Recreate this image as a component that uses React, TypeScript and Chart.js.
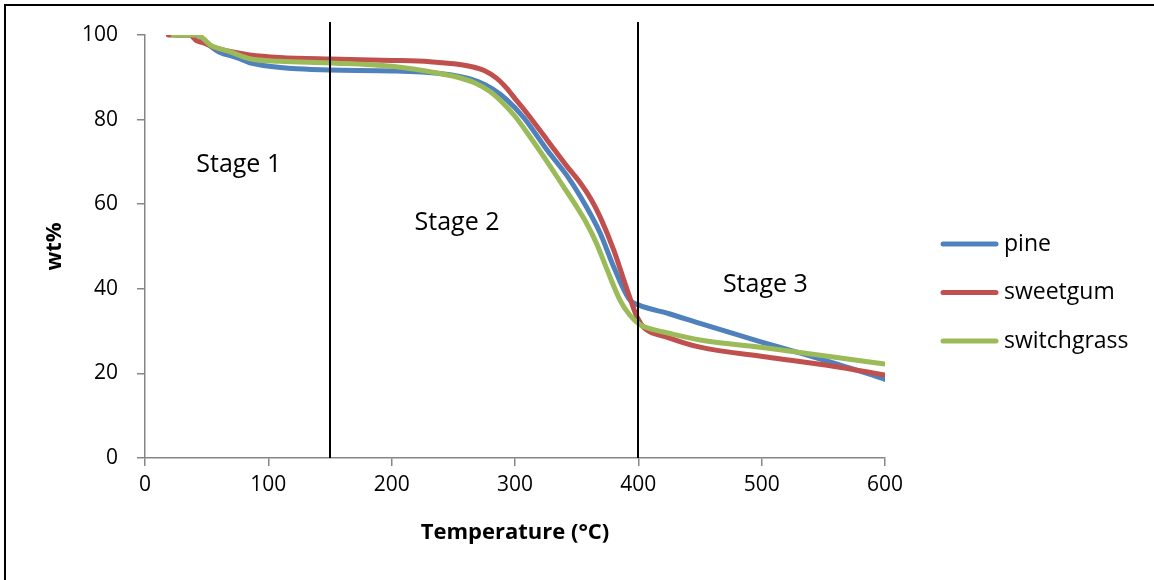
import React, { useEffect, useRef } from "react";
import { Chart, registerables } from "chart.js";

Chart.register(...registerables);

// ---- data ----
const seriesNames = ["pine", "sweetgum", "switchgrass"];
const seriesColors = ["#4F81BD", "#C0504D", "#9BBB59"];

const pineTemp = [25, 42, 47, 53, 60, 75, 85, 96, 110, 123, 150, 200, 239, 255, 270, 282, 293, 307, 326, 342, 353, 369, 380, 393, 400, 425, 450, 500, 530, 560, 590, 600];
const pineWt = [100, 100, 99.0, 97.4, 96.0, 94.6, 93.4, 92.8, 92.3, 92.0, 91.7, 91.5, 90.9, 90.2, 89.0, 87.2, 84.8, 80.5, 72.8, 66.8, 61.8, 53.2, 45.2, 37.4, 36.2, 34.1, 31.8, 27.4, 24.9, 22.3, 19.6, 18.6];

const sweetgumTemp = [19, 36, 42, 47, 55, 69, 85, 109, 150, 200, 231, 250, 265, 275, 285, 293, 301, 307, 326, 342, 353, 362, 369, 380, 391, 399, 405, 423, 450, 504, 558, 600];
const sweetgumWt = [100, 100, 98.6, 98.2, 97.2, 96.1, 95.3, 94.7, 94.3, 94.0, 93.7, 93.2, 92.5, 91.6, 89.8, 87.5, 84.6, 82.5, 75.2, 69, 65, 61, 57, 49.2, 39.7, 33.3, 30.7, 28.6, 26.2, 23.9, 21.7, 19.6];

const switchgrassTemp = [23, 42, 47, 53, 60, 69, 85, 109, 150, 200, 239, 255, 268, 280, 290, 300, 312, 328, 339, 348, 358, 366, 374, 385, 393, 401, 410, 423, 450, 504, 558, 600];
const switchgrassWt = [100, 100, 99.2, 97.6, 96.8, 96, 94.4, 93.8, 93.4, 92.6, 90.9, 89.9, 88.6, 86.6, 84.0, 80.8, 76.0, 69.2, 64.3, 60.3, 55.5, 50.8, 45.0, 37.4, 33.8, 31.6, 30.5, 29.6, 27.9, 26.0, 23.9, 22.2];

const xMin = 0;
const xMax = 600;
const xStep = 100;
const yMin = 0;
const yMax = 100;
const yStep = 20;

const stageBounds = [150, 400];
const stageLabels = ["Stage 1", "Stage 2", "Stage 3"];
const stageLabelTemp = [76, 253, 503];
const stageLabelWt = [67.6, 53.9, 39.3];

const xTitle = "Temperature (°C)";
const yTitle = "wt%";

const FONT = '"Open Sans", "Noto Sans", sans-serif';
const AXIS_GRAY = "#868686";

const toPoints = (xs: number[], ys: number[]) => xs.map((x, i) => ({ x, y: ys[i] }));

const overlayPlugin = {
  id: "overlay",
  afterDatasetsDraw(chart: any) {
    const { ctx, chartArea } = chart;
    const xs = chart.scales.x;
    const ys = chart.scales.y;
    ctx.save();
    // stage boundary lines
    ctx.strokeStyle = "#000";
    ctx.lineWidth = 2;
    stageBounds.forEach((t) => {
      const px = Math.round(xs.getPixelForValue(t));
      ctx.beginPath();
      ctx.moveTo(px, chartArea.top - 13);
      ctx.lineTo(px, chartArea.bottom);
      ctx.stroke();
    });
    // stage labels
    ctx.fillStyle = "#000";
    ctx.font = `25px ${FONT}`;
    ctx.textAlign = "center";
    ctx.textBaseline = "alphabetic";
    stageLabels.forEach((s, i) => {
      ctx.fillText(s, xs.getPixelForValue(stageLabelTemp[i]), ys.getPixelForValue(stageLabelWt[i]));
    });
    // legend
    const lx = chartArea.right + 58;
    const ly0 = 244;
    const step = 48.5;
    ctx.font = `23px ${FONT}`;
    ctx.textAlign = "left";
    ctx.textBaseline = "middle";
    chart.data.datasets.forEach((ds: any, i: number) => {
      const yy = ly0 + i * step;
      ctx.strokeStyle = ds.borderColor;
      ctx.lineWidth = 5;
      ctx.lineCap = "round";
      ctx.beginPath();
      ctx.moveTo(lx, yy);
      ctx.lineTo(lx + 53, yy);
      ctx.stroke();
      ctx.fillStyle = "#000";
      ctx.fillText(ds.label, lx + 61, yy);
    });
    ctx.restore();
  },
};

export default function App() {
  const ref = useRef<HTMLCanvasElement>(null);

  useEffect(() => {
    if (!ref.current) return;
    const series = [
      toPoints(pineTemp, pineWt),
      toPoints(sweetgumTemp, sweetgumWt),
      toPoints(switchgrassTemp, switchgrassWt),
    ];
    const chart = new Chart(ref.current, {
      type: "line",
      data: {
        datasets: series.map((data, i) => ({
          label: seriesNames[i],
          data,
          order: series.length - i,
          borderColor: seriesColors[i],
          backgroundColor: seriesColors[i],
          borderWidth: 5,
          pointRadius: 0,
          cubicInterpolationMode: "monotone" as const,
          borderJoinStyle: "round" as const,
          borderCapStyle: "round" as const,
          fill: false,
        })),
      },
      options: {
        animation: false,
        responsive: false,
        devicePixelRatio: 1,
        layout: { padding: { top: 0, left: 0, right: 0, bottom: 0 } },
        plugins: {
          legend: { display: false },
          tooltip: { enabled: false },
        },
        scales: {
          x: {
            type: "linear",
            position: "bottom",
            min: xMin,
            max: xMax,
            ticks: { stepSize: xStep, color: "#000", font: { family: FONT, size: 21 }, padding: 6, maxRotation: 0 },
            grid: { display: true, drawOnChartArea: false, drawTicks: true, tickLength: 8, color: AXIS_GRAY, lineWidth: 1.5 },
            border: { display: true, color: AXIS_GRAY, width: 1.5 },
            title: { display: true, text: xTitle, color: "#000", font: { family: FONT, size: 22, weight: "bold" }, padding: { top: 0, bottom: 34 } },
            afterFit: (s: any) => { s.height = 122; },
          },
          y: {
            type: "linear",
            position: "left",
            min: yMin,
            max: yMax,
            ticks: { stepSize: yStep, color: "#000", font: { family: FONT, size: 21 }, padding: 19 },
            grid: { display: true, drawOnChartArea: false, drawTicks: true, tickLength: 8, color: AXIS_GRAY, lineWidth: 1.5 },
            border: { display: true, color: AXIS_GRAY, width: 1.5 },
            title: { display: true, text: yTitle, color: "#000", font: { family: FONT, size: 22, weight: "bold" }, padding: { top: 42, bottom: 0 } },
            afterFit: (s: any) => { s.width = 145; },
          },
          spacerRight: {
            type: "linear",
            position: "right",
            display: true,
            grid: { display: false },
            ticks: { display: false },
            border: { display: false },
            afterFit: (s: any) => { s.width = 269; },
          },
          spacerTop: {
            type: "linear",
            position: "top",
            display: true,
            grid: { display: false },
            ticks: { display: false },
            border: { display: false },
            afterFit: (s: any) => { s.height = 35; },
          },
        },
      } as any,
      plugins: [overlayPlugin],
    });
    return () => chart.destroy();
  }, []);

  return (
    <div style={{ position: "fixed", left: 0, top: 0, width: 1154, height: 580, background: "#fff" }}>
      <canvas ref={ref} width={1154} height={580} style={{ display: "block" }} />
      <div
        style={{
          position: "absolute",
          left: 4,
          top: 4,
          width: 1150,
          height: 576,
          borderTop: "2px solid #000",
          borderLeft: "2px solid #000",
          boxSizing: "border-box",
          pointerEvents: "none",
        }}
      />
    </div>
  );
}
